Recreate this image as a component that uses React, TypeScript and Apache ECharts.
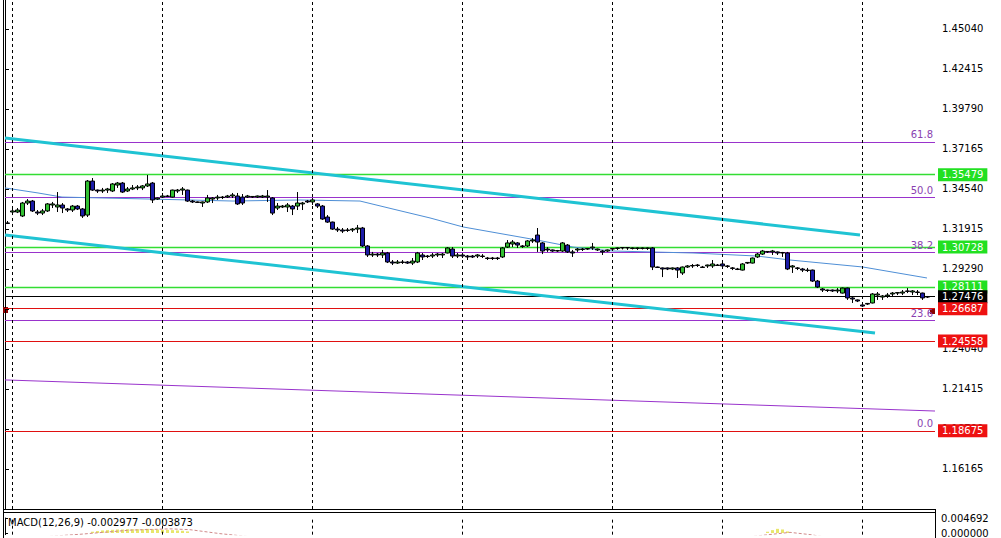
import React, { useEffect, useRef } from "react";
import * as echarts from "echarts";

// [open, close, low, high]
const candles: number[][] = [
  [1.3231,1.3228,1.3224,1.3244],[1.3303,1.3310,1.3283,1.3329],[1.3303,1.3316,1.3296,1.3329],[1.3277,1.3362,1.3270,1.3369],[1.3362,1.3375,1.3349,1.3388],
  [1.3375,1.3310,1.3303,1.3382],[1.3303,1.3296,1.3283,1.3316],[1.3296,1.3310,1.3283,1.3323],[1.3310,1.3356,1.3303,1.3362],[1.3349,1.3356,1.3329,1.3369],
  [1.3336,1.3349,1.3303,1.3434],[1.3349,1.3329,1.3296,1.3362],[1.3323,1.3316,1.3303,1.3329],[1.3316,1.3342,1.3303,1.3349],[1.3342,1.3323,1.3316,1.3349],
  [1.3323,1.3277,1.3264,1.3329],[1.3283,1.3506,1.3270,1.3513],[1.3506,1.3447,1.3441,1.3526],[1.3447,1.3441,1.3428,1.3450],[1.3441,1.3447,1.3428,1.3461],
  [1.3447,1.3454,1.3428,1.3461],[1.3441,1.3487,1.3434,1.3493],[1.3480,1.3493,1.3461,1.3500],[1.3493,1.3434,1.3428,1.3500],[1.3441,1.3454,1.3434,1.3467],
  [1.3454,1.3461,1.3447,1.3480],[1.3461,1.3467,1.3447,1.3480],[1.3461,1.3474,1.3447,1.3480],[1.3474,1.3487,1.3467,1.3546],[1.3493,1.3382,1.3362,1.3500],
  [1.3388,1.3395,1.3382,1.3398],[1.3401,1.3408,1.3395,1.3428],[1.3408,1.3405,1.3401,1.3415],[1.3401,1.3447,1.3398,1.3450],[1.3441,1.3447,1.3428,1.3454],
  [1.3447,1.3454,1.3415,1.3467],[1.3447,1.3375,1.3369,1.3450],[1.3375,1.3369,1.3362,1.3382],[1.3369,1.3366,1.3362,1.3372],[1.3362,1.3369,1.3336,1.3372],
  [1.3369,1.3395,1.3362,1.3415],[1.3388,1.3395,1.3362,1.3401],[1.3395,1.3401,1.3382,1.3415],[1.3401,1.3398,1.3388,1.3408],[1.3401,1.3408,1.3395,1.3415],
  [1.3408,1.3415,1.3395,1.3428],[1.3408,1.3356,1.3349,1.3428],[1.3401,1.3362,1.3349,1.3421],[1.3401,1.3408,1.3395,1.3415],[1.3401,1.3405,1.3395,1.3408],
  [1.3401,1.3408,1.3395,1.3411],[1.3401,1.3408,1.3395,1.3415],[1.3401,1.3408,1.3369,1.3447],[1.3395,1.3296,1.3283,1.3401],[1.3329,1.3342,1.3316,1.3362],
  [1.3336,1.3342,1.3329,1.3349],[1.3336,1.3349,1.3303,1.3362],[1.3342,1.3323,1.3283,1.3349],[1.3342,1.3362,1.3316,1.3434],[1.3356,1.3362,1.3316,1.3369],
  [1.3375,1.3369,1.3362,1.3382],[1.3369,1.3382,1.3349,1.3395],[1.3356,1.3342,1.3329,1.3362],[1.3342,1.3257,1.3251,1.3349],[1.3270,1.3237,1.3231,1.3283],
  [1.3237,1.3191,1.3185,1.3240],[1.3191,1.3185,1.3172,1.3205],[1.3185,1.3178,1.3165,1.3198],[1.3185,1.3182,1.3172,1.3198],[1.3185,1.3191,1.3172,1.3198],
  [1.3191,1.3198,1.3165,1.3218],[1.3198,1.3080,1.3073,1.3205],[1.3080,1.3021,1.3008,1.3086],[1.3021,1.3027,1.3008,1.3041],[1.3027,1.3021,1.3008,1.3034],
  [1.3021,1.3034,1.3001,1.3054],[1.3034,1.2975,1.2968,1.3041],[1.2975,1.2968,1.2955,1.2988],[1.2968,1.2975,1.2962,1.2988],[1.2975,1.2972,1.2962,1.2988],
  [1.2975,1.2968,1.2962,1.2981],[1.2968,1.2981,1.2955,1.3001],[1.2975,1.3034,1.2968,1.3041],[1.3021,1.3008,1.2988,1.3034],[1.3014,1.3011,1.3001,1.3021],
  [1.3014,1.3021,1.3001,1.3034],[1.3021,1.3027,1.3008,1.3034],[1.3021,1.3027,1.3001,1.3034],[1.3034,1.3067,1.3031,1.3073],[1.3060,1.3014,1.3001,1.3073],
  [1.3014,1.3021,1.3001,1.3034],[1.3021,1.3014,1.3001,1.3034],[1.3014,1.3008,1.2988,1.3021],[1.3014,1.3008,1.3001,1.3021],[1.3014,1.3021,1.3001,1.3027],
  [1.3014,1.3011,1.3001,1.3027],[1.3001,1.2998,1.2988,1.3008],[1.3001,1.2998,1.2988,1.3008],[1.3001,1.2998,1.2988,1.3008],[1.3008,1.3067,1.3001,1.3073],
  [1.3073,1.3100,1.3067,1.3119],[1.3093,1.3106,1.3073,1.3119],[1.3100,1.3086,1.3067,1.3106],[1.3080,1.3077,1.3067,1.3086],[1.3080,1.3113,1.3073,1.3119],
  [1.3113,1.3119,1.3100,1.3132],[1.3152,1.3106,1.3041,1.3198],[1.3100,1.3047,1.3027,1.3106],[1.3060,1.3054,1.3041,1.3073],[1.3054,1.3047,1.3041,1.3057],
  [1.3047,1.3050,1.3041,1.3054],[1.3047,1.3100,1.3041,1.3106],[1.3086,1.3041,1.3034,1.3093],[1.3041,1.3034,1.3008,1.3054],[1.3054,1.3060,1.3041,1.3067],
  [1.3060,1.3057,1.3047,1.3067],[1.3060,1.3063,1.3054,1.3067],[1.3067,1.3073,1.3054,1.3100],[1.3054,1.3060,1.3047,1.3063],[1.3047,1.3041,1.3021,1.3054],
  [1.3047,1.3054,1.3041,1.3057],[1.3060,1.3063,1.3054,1.3067],[1.3067,1.3064,1.3054,1.3070],[1.3067,1.3070,1.3057,1.3073],[1.3070,1.3067,1.3054,1.3073],
  [1.3067,1.3064,1.3057,1.3070],[1.3064,1.3067,1.3054,1.3070],[1.3067,1.3064,1.3057,1.3070],[1.3064,1.3067,1.3054,1.3070],[1.3067,1.2942,1.2922,1.3073],
  [1.2942,1.2939,1.2936,1.2945],[1.2936,1.2929,1.2876,1.2939],[1.2936,1.2929,1.2922,1.2939],[1.2929,1.2936,1.2922,1.2939],[1.2936,1.2922,1.2870,1.2942],
  [1.2903,1.2942,1.2890,1.2945],[1.2942,1.2949,1.2936,1.2955],[1.2949,1.2952,1.2936,1.2962],[1.2955,1.2952,1.2942,1.2962],[1.2942,1.2939,1.2936,1.2949],
  [1.2949,1.2955,1.2936,1.2958],[1.2949,1.2962,1.2936,1.2988],[1.2955,1.2952,1.2949,1.2962],[1.2962,1.2949,1.2936,1.2968],[1.2949,1.2946,1.2936,1.2955],
  [1.2936,1.2933,1.2922,1.2942],[1.2929,1.2926,1.2922,1.2936],[1.2922,1.2962,1.2919,1.2968],[1.2968,1.2972,1.2962,1.2975],[1.2968,1.3001,1.2965,1.3004],
  [1.3008,1.3027,1.3001,1.3034],[1.3027,1.3047,1.3021,1.3054],[1.3041,1.3044,1.3034,1.3047],[1.3041,1.3047,1.3021,1.3054],[1.3041,1.3034,1.3021,1.3044],
  [1.3034,1.3037,1.3008,1.3041],[1.3034,1.2929,1.2922,1.3041],[1.2942,1.2949,1.2903,1.2955],[1.2936,1.2933,1.2922,1.2942],[1.2929,1.2922,1.2909,1.2936],
  [1.2922,1.2919,1.2909,1.2936],[1.2922,1.2850,1.2844,1.2925],[1.2850,1.2811,1.2804,1.2857],[1.2798,1.2791,1.2778,1.2804],[1.2791,1.2788,1.2778,1.2794],
  [1.2791,1.2785,1.2778,1.2794],[1.2785,1.2791,1.2771,1.2804],[1.2771,1.2804,1.2768,1.2807],[1.2804,1.2739,1.2726,1.2807],[1.2739,1.2732,1.2706,1.2745],
  [1.2726,1.2719,1.2712,1.2729],[1.2693,1.2686,1.2680,1.2696],[1.2699,1.2703,1.2693,1.2706],[1.2706,1.2765,1.2703,1.2771],[1.2758,1.2765,1.2726,1.2778],
  [1.2745,1.2752,1.2726,1.2758],[1.2752,1.2758,1.2739,1.2771],[1.2765,1.2771,1.2745,1.2778],[1.2771,1.2774,1.2758,1.2778],[1.2771,1.2778,1.2758,1.2791],
  [1.2785,1.2782,1.2771,1.2804],[1.2778,1.2785,1.2758,1.2791],[1.2778,1.2775,1.2758,1.2791],[1.2771,1.2739,1.2726,1.2774],[1.2745,1.27476,1.2739,1.2752],
];

const SLOTS = 186;
const categories: string[] = Array.from({ length: SLOTS }, (_, i) => String(i));

const yTicks = [1.16165, 1.1879, 1.21415, 1.2404, 1.26665, 1.2929, 1.31915, 1.3454, 1.37165, 1.3979, 1.42415, 1.4504];
const macdTicks = [0, 0.004692];

const greenLevels = [1.35479, 1.30728, 1.28111];
const redLevels = [1.26687, 1.24558, 1.18675];
const bidLevel = 1.27476;
const fibLabels = ["61.8", "50.0", "38.2", "23.6", "0.0"];
const fibPrices = [1.3763, 1.3401, 1.3039, 1.2591, 1.18675];

// trend lines: [slot position, price]
const trendUpper = [[0, 1.3789], [171, 1.3152]];
const trendLower = [[0, 1.3152], [174, 1.2509]];
const purpleSlope = [[0, 1.2201], [186, 1.1997]];
const maLine = [
  [0, 1.3461], [6.6, 1.3428], [11.4, 1.3401], [29, 1.3388], [45.6, 1.3375], [59, 1.3382], [71, 1.3375],
  [78.4, 1.3316], [85, 1.3264], [91.6, 1.3205], [106.4, 1.3119], [113.6, 1.3073], [121.6, 1.3047],
  [137.6, 1.3034], [150.4, 1.3014], [157, 1.2988], [171.6, 1.2942], [184.4, 1.287],
];
const gridLineSlots = [1.5, 31.5, 61.5, 91.5, 121.5, 143.5, 171.5];

// MACD (only the visible top part of the panel)
const macdHist = [
  [17, 0.0004], [18, 0.0006], [19, 0.0008], [20, 0.0009], [21, 0.001], [22, 0.0011], [23, 0.0011], [24, 0.0012],
  [25, 0.0012], [26, 0.0012], [27, 0.0012], [28, 0.0013], [29, 0.0012], [30, 0.0011], [31, 0.001], [32, 0.001],
  [33, 0.0009], [34, 0.0008], [35, 0.0007], [36, 0.0005],
  [152, 0.0004], [153, 0.0009], [154, 0.0013], [155, 0.0011], [156, 0.0005],
];
const macdSignal = [
  [0, -0.002], [15, -0.0004], [25, 0.0009], [33, 0.0013], [37, 0.00104], [43, -0.0002], [51, -0.0015],
  [100, -0.003], [147, -0.0015], [154, -0.0003], [157, 0.0002], [161, -0.0005], [169, -0.0025], [186, -0.0039],
];
const macdTitle = "MACD(12,26,9) -0.002977 -0.003873";

const FONT = "DejaVu Sans";

function priceBox(v: number, bg: string) {
  return {
    show: true,
    position: "end",
    distance: 3,
    formatter: v.toFixed(5),
    color: "#fff",
    backgroundColor: bg,
    padding: [1, 4, 1, 4],
    fontSize: 10,
    fontFamily: FONT,
    lineHeight: 11,
  };
}

export default function App() {
  const ref = useRef<HTMLDivElement>(null);
  useEffect(() => {
    if (!ref.current) return;
    const chart = echarts.init(ref.current, null, { renderer: "svg" });

    const hLines: any[] = [];
    fibPrices.forEach((p, k) => {
      hLines.push({
        yAxis: p,
        lineStyle: { color: "#9933cc", width: 1, type: "solid" },
        label: { show: true, position: "insideEndTop", formatter: fibLabels[k], color: "#8a3fb0", fontSize: 10, fontFamily: FONT, distance: 2 },
      });
    });
    greenLevels.forEach((p) => {
      hLines.push({ yAxis: p, lineStyle: { color: "#33dd33", width: 1.3, type: "solid" }, label: priceBox(p, "#22e022") });
    });
    hLines.push({ yAxis: bidLevel, lineStyle: { color: "#000", width: 1, type: "solid" }, label: priceBox(bidLevel, "#000") });
    redLevels.forEach((p) => {
      hLines.push({ yAxis: p, lineStyle: { color: "#e01010", width: 1, type: "solid" }, label: priceBox(p, "#ee1111") });
    });

    const vLines = gridLineSlots.map((x) => ({ xAxis: x }));

    const option: any = {
      animation: false,
      backgroundColor: "#ffffff",
      textStyle: { fontFamily: FONT },
      grid: [
        { left: 5, right: 66, top: 0, height: 509 },
        { left: 5, right: 66, top: 518, bottom: 0 },
      ],
      xAxis: [
        { type: "category", gridIndex: 0, data: categories, show: false, boundaryGap: true },
        { type: "value", gridIndex: 0, min: 0, max: SLOTS, show: false },
        { type: "value", gridIndex: 1, min: 0, max: SLOTS, show: false },
        { type: "category", gridIndex: 1, data: categories, show: false, boundaryGap: true },
      ],
      yAxis: [
        {
          type: "value", gridIndex: 0, position: "right", min: 1.1354, max: 1.46943,
          axisLine: { show: true, lineStyle: { color: "#000", width: 1 } },
          axisTick: { show: true, length: 4, inside: false, lineStyle: { color: "#000" }, customValues: yTicks },
          axisLabel: { customValues: yTicks, formatter: (v: number) => v.toFixed(5), color: "#000", fontSize: 10, margin: 7, fontFamily: FONT },
          splitLine: { show: false },
        },
        {
          type: "value", gridIndex: 1, position: "right", min: -0.000521, max: 0.004692,
          axisLine: { show: true, lineStyle: { color: "#000", width: 1 } },
          axisTick: { show: true, length: 3, lineStyle: { color: "#000" }, customValues: macdTicks },
          axisLabel: { customValues: macdTicks, formatter: (v: number) => v.toFixed(6), color: "#000", fontSize: 10, margin: 6, fontFamily: FONT },
          splitLine: { show: false },
        },
      ],
      series: [
        {
          type: "line", xAxisIndex: 1, yAxisIndex: 0, data: purpleSlope, symbol: "none", z: 3,
          lineStyle: { color: "#9933cc", width: 1 },
          markLine: { silent: true, precision: 6, symbol: ["none", "none"], label: { show: false }, data: hLines, z: 3 },
        },
        {
          type: "line", xAxisIndex: 1, yAxisIndex: 0, data: maLine, symbol: "none", z: 4,
          lineStyle: { color: "#4f8fd6", width: 1 },
          markLine: {
            silent: true, precision: 6, symbol: ["none", "none"], label: { show: false },
            lineStyle: { color: "#000", width: 1, type: [3, 3] }, data: vLines,
          },
        },
        { type: "line", xAxisIndex: 1, yAxisIndex: 0, data: trendUpper, symbol: "none", z: 4, lineStyle: { color: "#1fc3d3", width: 3 } },
        { type: "line", xAxisIndex: 1, yAxisIndex: 0, data: trendLower, symbol: "none", z: 4, lineStyle: { color: "#1fc3d3", width: 3 } },
        {
          type: "candlestick", xAxisIndex: 0, yAxisIndex: 0, data: candles, barWidth: 4, z: 6,
          itemStyle: { color: "#33c033", color0: "#1c1ca8", borderColor: "#000", borderColor0: "#000", borderWidth: 1 },
        },
        {
          type: "bar", xAxisIndex: 3, yAxisIndex: 1, data: macdHist, barWidth: 3,
          itemStyle: { color: "#e8e66c" },
        },
        {
          type: "line", xAxisIndex: 2, yAxisIndex: 1, data: macdSignal, symbol: "none",
          lineStyle: { color: "#d08a8a", width: 1, type: [3, 2] },
          markLine: {
            silent: true, precision: 6, symbol: ["none", "none"], label: { show: false },
            lineStyle: { color: "#000", width: 1, type: [3, 3] }, data: vLines,
          },
        },
      ],
      graphic: [
        { type: "line", shape: { x1: 3.5, y1: 0, x2: 3.5, y2: 538 }, style: { stroke: "#000", lineWidth: 1 } },
        { type: "line", shape: { x1: 3, y1: 509.5, x2: 935, y2: 509.5 }, style: { stroke: "#000", lineWidth: 1 } },
        { type: "line", shape: { x1: 3, y1: 512.5, x2: 935, y2: 512.5 }, style: { stroke: "#000", lineWidth: 1 } },
        { type: "line", shape: { x1: 935.5, y1: 509, x2: 935.5, y2: 538 }, style: { stroke: "#000", lineWidth: 1 } },
        { type: "rect", shape: { x: 3, y: 307, width: 5, height: 6 }, style: { fill: "#8b0000" } },
        { type: "rect", shape: { x: 930, y: 308, width: 5, height: 6 }, style: { fill: "#8b0000" } },
        { type: "text", left: 8, top: 517, style: { text: macdTitle, font: `10px "${FONT}"`, fill: "#000" } },
      ],
    };
    chart.setOption(option);
    return () => chart.dispose();
  }, []);
  return <div ref={ref} style={{ position: "fixed", left: 0, top: 0, width: 1001, height: 538, background: "#fff" }} />;
}
